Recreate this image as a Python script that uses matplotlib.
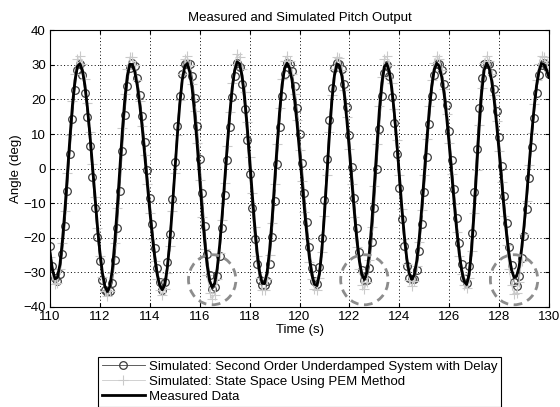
import matplotlib.pyplot as plt
import numpy as np
from matplotlib.patches import Ellipse

plt.rcParams['font.family'] = ['Liberation Sans', 'DejaVu Sans']
plt.rcParams['font.size'] = 9.5

# sampled every 0.1 s from 110 s to 130 s
t_start = 110.0
sample_dt = 0.1

measured = [
    -24.3, -29.4, -31.9, -31.5, -27.7, -20.7, -11.7, -1.3, 9.1, 18.4,
    25.5, 29.6, 30.4, 28.4, 24.1, 17.7, 9.9, 1.1, -8.0, -16.6,
    -24.2, -30.2, -34.1, -35.6, -34.1, -29.1, -20.9, -10.9, 0.2, 11.0,
    20.3, 26.9, 30.2, 30.1, 28.0, 23.9, 18.3, 11.5, 3.7, -4.4,
    -12.3, -19.5, -25.9, -30.8, -33.9, -35.1, -33.7, -28.9, -21.5, -11.8,
    -1.3, 9.2, 18.5, 25.6, 29.6, 30.4, 28.0, 23.0, 15.6, 6.8,
    -3.0, -12.6, -21.2, -28.1, -32.6, -34.4, -33.2, -29.0, -22.2, -13.5,
    -3.7, 6.2, 15.4, 23.2, 28.4, 30.9, 30.3, 26.8, 20.7, 12.6,
    3.2, -6.7, -16.0, -24.0, -29.9, -33.1, -33.3, -30.1, -23.7, -14.8,
    -4.2, 6.5, 16.3, 24.2, 29.0, 30.5, 29.1, 25.6, 20.1, 13.1,
    5.0, -3.5, -12.0, -19.6, -26.1, -30.9, -33.5, -33.9, -30.5, -23.4,
    -13.3, -1.8, 9.8, 19.8, 26.9, 30.3, 29.8, 26.7, 21.2, 13.8,
    5.2, -4.1, -12.8, -20.8, -26.8, -30.8, -32.1, -30.1, -24.3, -15.5,
    -4.7, 6.5, 16.9, 24.8, 29.5, 30.4, 28.1, 23.2, 16.2, 7.7,
    -1.8, -11.1, -19.3, -26.0, -30.4, -32.1, -30.8, -26.7, -20.0, -11.4,
    -1.8, 8.0, 16.9, 24.0, 28.7, 30.5, 29.6, 26.5, 21.4, 14.7,
    6.9, -1.6, -10.0, -17.8, -24.5, -29.6, -32.7, -33.6, -30.7, -23.3,
    -12.6, -0.3, 11.9, 21.9, 28.5, 30.5, 29.1, 25.5, 19.9, 12.9,
    4.9, -3.5, -11.9, -19.1, -25.3, -29.4, -31.5, -31.2, -28.5, -23.4,
    -16.5, -8.2, 0.8, 9.6, 17.4, 24.0, 28.3, 30.4, 30.1, 28.6,
    26.4,
]

second_order = [
    -22.5, -28.3, -31.6, -32.6, -30.4, -24.7, -16.6, -6.5, 4.2, 14.3,
    22.7, 28.4, 30.2, 27.1, 22.0, 14.9, 6.6, -2.5, -11.5, -19.8,
    -26.9, -32.2, -35.2, -35.6, -35.4, -33.1, -26.4, -17.2, -6.4, 5.0,
    15.5, 23.9, 29.2, 30.5, 29.6, 26.3, 21.4, 15.2, 7.7, -0.4,
    -8.5, -16.1, -23.1, -28.8, -32.8, -35.1, -32.8, -27.1, -18.9, -8.8,
    1.9, 12.2, 21.0, 27.3, 30.3, 30.5, 30.2, 26.7, 20.5, 12.4,
    2.8, -7.1, -16.6, -24.7, -30.7, -35.0, -34.3, -31.2, -25.3, -17.2,
    -7.6, 2.4, 12.0, 20.6, 26.9, 30.5, 29.3, 24.4, 17.2, 8.2,
    -1.6, -11.5, -20.3, -27.5, -32.2, -33.6, -33.6, -32.5, -27.5, -19.7,
    -9.5, 1.4, 11.9, 21.0, 27.4, 30.5, 30.4, 28.3, 23.9, 17.6,
    10.0, 1.6, -7.2, -15.4, -22.7, -28.7, -32.6, -33.3, -28.4, -20.0,
    -9.0, 2.8, 14.1, 23.2, 29.0, 30.5, 30.4, 28.9, 24.4, 17.8,
    9.7, 0.4, -8.6, -17.3, -24.3, -29.5, -32.3, -32.2, -28.7, -21.4,
    -11.3, 0.0, 11.4, 21.0, 27.8, 30.1, 26.7, 20.8, 13.1, 4.1,
    -5.6, -14.6, -22.3, -28.2, -31.6, -32.1, -32.0, -29.4, -23.8, -16.0,
    -6.7, 3.3, 12.9, 21.1, 27.1, 30.3, 30.4, 28.6, 24.4, 18.3,
    11.0, 2.6, -6.0, -14.2, -21.6, -27.6, -31.7, -33.1, -28.1, -18.8,
    -6.9, 5.8, 17.5, 26.1, 30.4, 30.4, 30.3, 27.8, 23.1, 16.7,
    9.0, 0.7, -8.0, -15.8, -22.7, -27.9, -32.8, -33.9, -31.2, -25.8,
    -19.5, -11.7, -2.8, 6.3, 14.5, 21.8, 27.0, 30.0, 30.5, 29.3,
    27.4,
]

state_space = [
    -25.5, -30.9, -33.5, -33.1, -29.1, -21.7, -12.3, -1.4, 9.7, 19.7,
    27.3, 31.7, 32.5, 30.4, 25.8, 18.9, 10.6, 1.2, -8.3, -17.3,
    -25.2, -31.4, -35.5, -37.0, -35.5, -30.3, -21.7, -11.3, 0.2, 11.8,
    21.7, 28.8, 32.3, 32.2, 30.0, 25.6, 19.6, 12.3, 4.0, -4.6,
    -12.8, -20.3, -26.9, -32.0, -35.3, -36.5, -35.0, -30.1, -22.4, -12.3,
    -1.4, 9.8, 19.8, 27.4, 31.7, 32.5, 30.0, 24.6, 16.7, 7.3,
    -3.3, -13.9, -23.3, -30.9, -35.9, -37.8, -36.5, -31.9, -24.4, -14.9,
    -4.1, 6.6, 16.5, 24.8, 30.4, 33.1, 32.4, 28.7, 22.1, 13.5,
    3.4, -7.1, -17.0, -25.4, -31.7, -35.1, -35.3, -31.9, -25.1, -15.7,
    -4.5, 7.0, 17.4, 25.9, 31.0, 32.6, 31.1, 27.4, 21.5, 14.0,
    5.4, -3.6, -12.5, -20.4, -27.1, -32.1, -34.8, -35.3, -31.7, -24.3,
    -13.8, -1.9, 10.5, 21.2, 28.8, 32.4, 31.9, 28.6, 22.7, 14.8,
    5.6, -4.5, -14.0, -22.7, -29.2, -33.6, -35.0, -32.8, -26.5, -16.9,
    -5.1, 7.0, 18.1, 26.5, 31.6, 32.5, 30.1, 24.8, 17.3, 8.2,
    -1.9, -11.8, -20.5, -27.6, -32.2, -34.0, -32.6, -28.3, -21.2, -12.1,
    -1.9, 8.6, 18.1, 25.7, 30.7, 32.6, 31.7, 28.4, 22.9, 15.7,
    7.4, -1.6, -10.3, -18.3, -25.2, -30.5, -33.7, -34.6, -31.6, -24.0,
    -13.0, -0.3, 12.7, 23.4, 30.5, 32.6, 31.1, 27.3, 21.3, 13.8,
    5.2, -4.0, -13.7, -22.0, -29.1, -33.8, -36.2, -35.9, -32.8, -26.9,
    -19.0, -9.4, 0.9, 10.3, 18.6, 25.7, 30.3, 32.5, 32.2, 30.6,
    28.2,
]

# troughs circled in the original figure
highlight_times = [116.5, 122.6, 128.6]
highlight_angle = -32.2

x_ticks = list(range(110, 131, 2))
y_ticks = list(range(-40, 41, 10))

time = t_start + sample_dt * np.arange(len(measured))

fig = plt.figure(figsize=(5.6, 4.07), dpi=100)
ax = fig.add_axes([50 / 560, 1 - 306.7 / 407, 499 / 560, 276.3 / 407])

ax.plot(time, second_order, color='#444444', lw=0.6, marker='o', ms=5.5,
        mfc='none', mec='#3c3c3c', mew=0.9,
        label='Simulated: Second Order Underdamped System with Delay')
ax.plot(time, state_space, color='#cacaca', lw=0.6, marker='+', ms=7, mew=0.8,
        label='Simulated: State Space Using PEM Method')
ax.plot(time, measured, color='black', lw=2, label='Measured Data')

for tc in highlight_times:
    ax.add_patch(Ellipse((tc, highlight_angle), 1.9, 14.5, fill=False,
                         ec='#8c8c8c', lw=2, ls=(0, (3, 2)), zorder=4))

ax.set_xlim(110, 130)
ax.set_ylim(-40, 40)
ax.set_xticks(x_ticks)
ax.set_yticks(y_ticks)
ax.grid(True, color='black', lw=0.7, ls=(0, (1, 2.5)))
ax.tick_params(direction='in', length=3, top=True, right=True, pad=3)
for sp in ax.spines.values():
    sp.set_linewidth(0.8)

ax.set_title('Measured and Simulated Pitch Output', fontsize=9.5, pad=7)
ax.set_xlabel('Time (s)', labelpad=1)
ax.set_ylabel('Angle (deg)', labelpad=1)

leg = fig.legend(loc='upper center', bbox_to_anchor=(299.5 / 560, 1 - 350 / 407),
                 fancybox=False, edgecolor='black', framealpha=1,
                 handlelength=3.3, labelspacing=0.2, borderpad=0.3,
                 handletextpad=0.3, fontsize=9.5)
leg.get_frame().set_linewidth(0.8)

fig.savefig('out.png', dpi=100)
